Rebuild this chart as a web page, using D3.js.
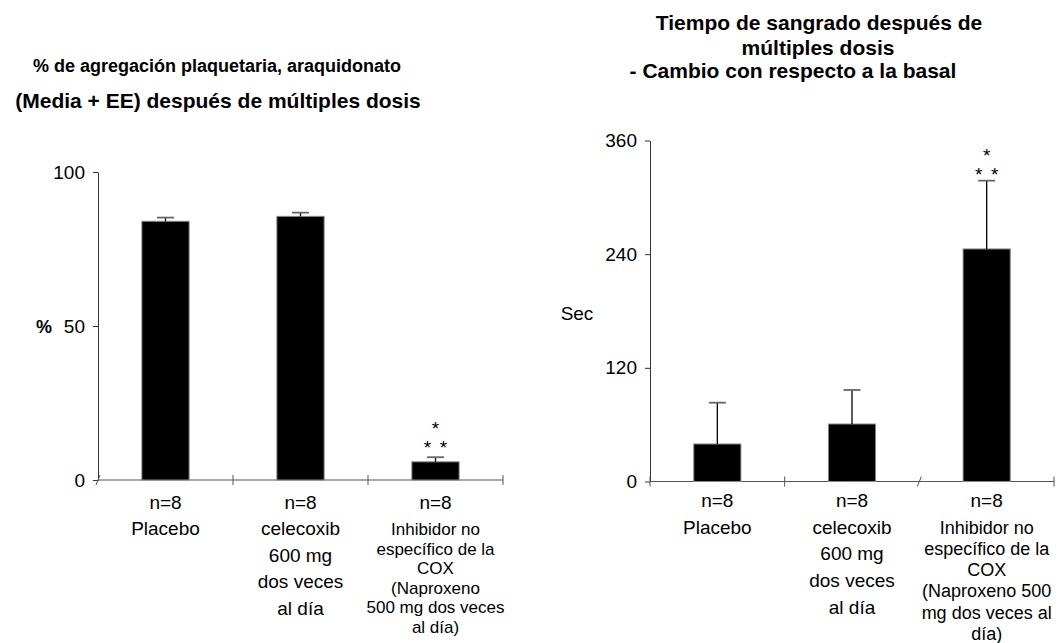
<!DOCTYPE html>
<html>
<head>
<meta charset="UTF-8">
<title>Agregación plaquetaria y tiempo de sangrado</title>
<style>
  body { margin: 0; background: #fff; }
  text { font-family: "Liberation Sans", Arial, sans-serif; fill: #000; }
</style>
</head>
<body>
<script src="https://d3js.org/d3.v7.min.js"></script>
<script>
// data
var aggGroups = ["Placebo", "celecoxib", "naproxeno"];
var aggMeans = [84.0, 85.6, 5.9];
var aggSE = [1.2, 1.2, 1.5];
var aggTicks = [0, 50, 100];
var aggLabels = [
  ["n=8", "Placebo"],
  ["n=8", "celecoxib", "600 mg", "dos veces", "al día"],
  ["n=8", "Inhibidor no", "específico de la", "COX", "(Naproxeno", "500 mg dos veces", "al día)"]
];

var bleedGroups = ["Placebo", "celecoxib", "naproxeno"];
var bleedMeans = [39.6, 60.7, 245.5];
var bleedSE = [43.6, 35.9, 72.1];
var bleedTicks = [0, 120, 240, 360];
var bleedLabels = [
  ["n=8", "Placebo"],
  ["n=8", "celecoxib", "600 mg", "dos veces", "al día"],
  ["n=8", "Inhibidor no", "específico de la", "COX", "(Naproxeno 500", "mg dos veces al", "día)"]
];

var W = 1063, H = 643;
var svg = d3.select("body").append("svg")
    .attr("width", W)
    .attr("height", H);

function panel(o) {
  var g = svg.append("g");
  var x = d3.scaleBand().domain(o.groups).range([o.x0, o.x1]).padding(0);
  var y = d3.scaleLinear().domain([0, o.max]).range([o.y0, o.y1]);
  var bw = x.bandwidth() * 0.35;
  var cx = function(d) { return x(d) + x.bandwidth() / 2; };

  // y axis
  var ax = g.append("g")
      .attr("transform", "translate(" + o.x0 + ",0)")
      .call(d3.axisLeft(y).tickValues(o.ticks).tickSize(5).tickPadding(8).tickSizeOuter(0));
  ax.select(".domain").attr("stroke", "#333");
  ax.selectAll(".tick line").attr("stroke", "#333");
  ax.selectAll(".tick text")
      .style("font-family", "'Liberation Sans', Arial, sans-serif")
      .attr("font-size", 19)
      .attr("fill", "#000");

  // x axis line and boundary ticks (some drawn slanted like the original)
  g.append("line")
      .attr("x1", o.x0).attr("x2", o.x1)
      .attr("y1", y(0)).attr("y2", y(0))
      .attr("stroke", "#555").attr("stroke-width", 1.2);
  var bounds = o.groups.map(function(d) { return x(d); }).concat([o.x1]);
  g.selectAll(".xt").data(bounds).enter().append("line")
      .attr("x1", function(d, i) { return d - (o.slant.indexOf(i) >= 0 ? 2 : 0); })
      .attr("x2", function(d, i) { return d + (o.slant.indexOf(i) >= 0 ? 2 : 0); })
      .attr("y1", y(0) + 5).attr("y2", y(0) - 5)
      .attr("stroke", "#555");

  // bars
  g.selectAll(".bar").data(o.groups).enter().append("rect")
      .attr("x", function(d) { return cx(d) - bw / 2; })
      .attr("y", function(d, i) { return y(o.means[i]); })
      .attr("width", bw)
      .attr("height", function(d, i) { return y(0) - y(o.means[i]); })
      .attr("fill", "#000")
      .attr("stroke", "#888");

  // error bars (upper only)
  g.selectAll(".err").data(o.groups).enter().append("line")
      .attr("x1", cx).attr("x2", cx)
      .attr("y1", function(d, i) { return y(o.means[i]); })
      .attr("y2", function(d, i) { return y(o.means[i] + o.se[i]); })
      .attr("stroke", "#000").attr("stroke-width", 1.3);
  g.selectAll(".cap").data(o.groups).enter().append("line")
      .attr("x1", function(d) { return cx(d) - 8.5; })
      .attr("x2", function(d) { return cx(d) + 8.5; })
      .attr("y1", function(d, i) { return y(o.means[i] + o.se[i]); })
      .attr("y2", function(d, i) { return y(o.means[i] + o.se[i]); })
      .attr("stroke", "#666").attr("stroke-width", 1.8);

  // significance stars over the third group
  var sx = cx(o.groups[2]);
  var top = y(o.means[2] + o.se[2]);
  var st = g.append("g").attr("font-size", 19).attr("text-anchor", "middle");
  st.append("text").attr("x", sx).attr("y", top - o.starGap - 19 + 11).text("*");
  st.append("text").attr("x", sx - 8).attr("y", top - o.starGap + 11).text("*");
  st.append("text").attr("x", sx + 8).attr("y", top - o.starGap + 11).text("*");

  // category labels
  o.labels.forEach(function(lines, i) {
    var t = g.append("text").attr("text-anchor", "middle");
    lines.forEach(function(s, j) {
      var yy = j === 0 ? y(0) + o.firstGap : y(0) + o.secondGap + (j - 1) * o.step[i];
      t.append("tspan")
          .attr("x", cx(o.groups[i])).attr("y", yy)
          .attr("font-size", j === 0 ? 19 : o.fs[i])
          .text(s);
    });
  });
  return g;
}

panel({
  groups: aggGroups, means: aggMeans, se: aggSE, ticks: aggTicks, labels: aggLabels,
  max: 100, x0: 98, x1: 503, y0: 480, y1: 172, slant: [0],
  starGap: 14, firstGap: 29, secondGap: 55, step: [0, 26.7, 19.6], fs: [19, 19, 17]
});

panel({
  groups: bleedGroups, means: bleedMeans, se: bleedSE, ticks: bleedTicks, labels: bleedLabels,
  max: 360, x0: 650, x1: 1054, y0: 481.5, y1: 140.5, slant: [2],
  starGap: 11, firstGap: 25, secondGap: 52, step: [0, 26.7, 21.3], fs: [19, 19, 18]
});

// axis titles
svg.append("text").attr("x", 44).attr("y", 333)
    .attr("text-anchor", "middle").attr("font-size", 18).attr("font-weight", "bold").text("%");
svg.append("text").attr("x", 577).attr("y", 320)
    .attr("text-anchor", "middle").attr("font-size", 19).text("Sec");

// chart titles
var t1 = svg.append("g").attr("font-weight", "bold").attr("text-anchor", "middle");
t1.append("text").attr("x", 217).attr("y", 72).attr("font-size", 18)
    .text("% de agregación plaquetaria, araquidonato");
t1.append("text").attr("x", 218).attr("y", 108).attr("font-size", 21)
    .text("(Media + EE) después de múltiples dosis");
t1.append("text").attr("x", 819).attr("y", 30).attr("font-size", 21)
    .text("Tiempo de sangrado después de");
t1.append("text").attr("x", 818).attr("y", 55).attr("font-size", 21)
    .text("múltiples dosis");
t1.append("text").attr("x", 793).attr("y", 78).attr("font-size", 21)
    .text("- Cambio con respecto a la basal");
</script>
</body>
</html>
